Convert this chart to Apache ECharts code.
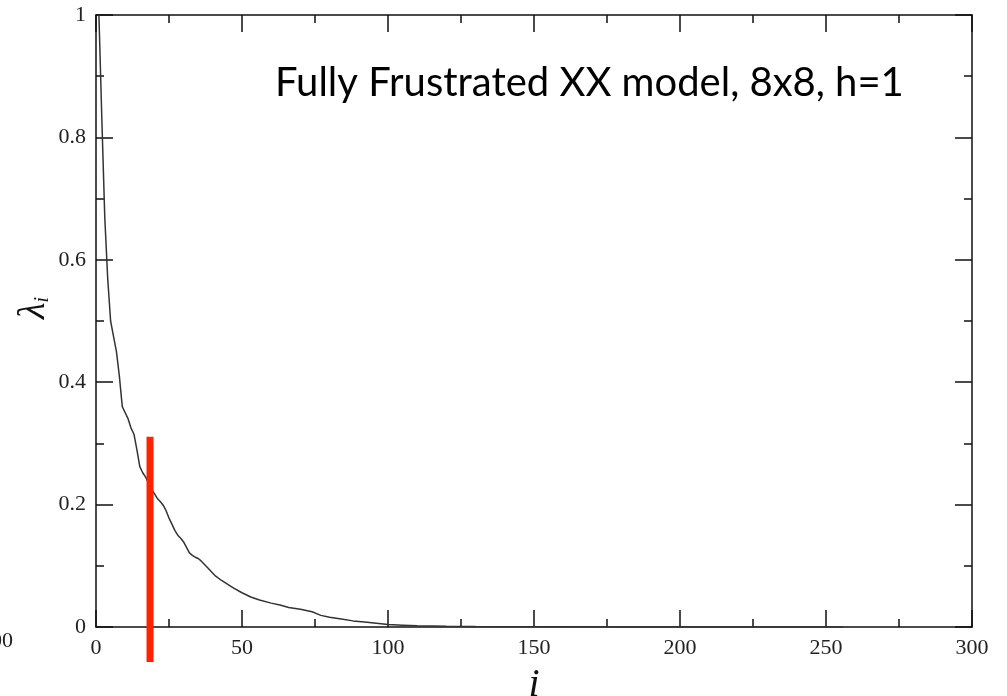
<!DOCTYPE html>
<html lang="en">
<head>
    <meta charset="UTF-8">
    <script src="https://cdn.jsdelivr.net/npm/echarts@6/dist/echarts.min.js"></script>
    <title>Eigenvalues</title>
    <style>
        html, body { margin: 0; height: 100%; background: #fff; }
        #container { width: 1007px; height: 696px; }
    </style>
</head>
<body>
<div id="container"></div>
<script type="application/javascript">
    // eigenvalue index i and value lambda_i
    const idx = [1, 2, 3, 4, 5, 6, 7, 8, 9, 10, 11, 12, 13, 14, 15, 16, 17, 18, 19, 20,
        21, 22, 23, 24, 25, 26, 27, 28, 29, 30, 31, 32, 33, 34, 35, 36, 38, 40, 41, 43,
        45, 47, 50, 53, 56, 60, 63, 66, 70, 74, 77, 80, 84, 88, 92, 96, 100, 105, 110, 120,
        130, 150, 180, 220, 256];
    const lambda = [1.0, 0.83, 0.67, 0.57, 0.50, 0.475, 0.45, 0.41, 0.36, 0.35, 0.34, 0.325, 0.315, 0.29, 0.262, 0.252, 0.245, 0.235, 0.225, 0.218,
        0.21, 0.205, 0.199, 0.19, 0.178, 0.168, 0.158, 0.15, 0.145, 0.139, 0.13, 0.121, 0.117, 0.114, 0.112, 0.108, 0.098, 0.088, 0.083, 0.076,
        0.07, 0.064, 0.056, 0.049, 0.044, 0.039, 0.036, 0.032, 0.029, 0.025, 0.019, 0.016, 0.013, 0.010, 0.008, 0.006, 0.004, 0.003, 0.002, 0.0012,
        0.0008, 0.0004, 0.0002, 0.0001, 0.00005];
    // red cut marker
    const cutIdx = 18.5;
    const cutRange = [0.311, -0.057];

    const titleText = 'Fully Frustrated XX model, 8x8, h=1';

    const dom = document.getElementById('container');
    const myChart = echarts.init(dom, null, {renderer: 'canvas'});

    let curve = [];
    for (let k = 0; k < idx.length; k++) {
        curve.push([idx[k], lambda[k]]);
    }
    const cut = cutRange.map(v => [cutIdx, v]);

    const axisLine = {show: true, onZero: false, lineStyle: {color: '#111', width: 1.5}};
    const majorTick = {show: true, inside: true, length: 17, lineStyle: {color: '#111', width: 1.5}};
    const minorTick = {show: true, splitNumber: 2, length: 8, lineStyle: {color: '#111', width: 1.5}};
    const tickFont = {fontFamily: 'Liberation Serif', fontSize: 22, color: '#222'};

    const option = {
        animation: false,
        grid: {left: 96, right: 35, top: 15, bottom: 69, containLabel: false, outerBoundsMode: 'none'},
        xAxis: [
            {
                type: 'value', min: 0, max: 300, interval: 50,
                axisLine: axisLine, axisTick: majorTick,
                minorTick: minorTick,
                splitLine: {show: false},
                axisLabel: Object.assign({margin: 10}, tickFont),
                name: 'i', nameLocation: 'middle', nameGap: 38,
                nameTextStyle: {fontFamily: 'Liberation Serif', fontStyle: 'italic', fontSize: 40, color: '#111'}
            },
            {
                type: 'value', position: 'top', min: 0, max: 300, interval: 50,
                axisLine: axisLine, axisTick: majorTick, minorTick: minorTick,
                splitLine: {show: false}, axisLabel: {show: false}
            }
        ],
        yAxis: [
            {
                type: 'value', min: 0, max: 1, interval: 0.2,
                axisLine: axisLine, axisTick: majorTick, minorTick: minorTick,
                splitLine: {show: false},
                axisLabel: Object.assign({margin: 10}, tickFont)
            },
            {
                type: 'value', position: 'right', min: 0, max: 1, interval: 0.2,
                axisLine: axisLine, axisTick: majorTick, minorTick: minorTick,
                splitLine: {show: false}, axisLabel: {show: false}
            }
        ],
        graphic: [
            {
                type: 'text', left: 275, top: 63,
                style: {text: titleText, fontFamily: 'Lato', fontSize: 40, fill: '#000'}
            },
            {
                type: 'text', x: 34, y: 308, rotation: Math.PI / 2,
                style: {
                    text: '{a|λ}{b|i}', align: 'center', verticalAlign: 'middle',
                    rich: {
                        a: {fontFamily: 'Liberation Serif', fontStyle: 'italic', fontSize: 38, fill: '#111'},
                        b: {fontFamily: 'Liberation Serif', fontStyle: 'italic', fontSize: 20, fill: '#111', verticalAlign: 'bottom'}
                    }
                }
            },
            {
                type: 'text', x: 13, y: 641,
                style: {text: '300', align: 'right', verticalAlign: 'middle',
                    fontFamily: 'Liberation Serif', fontSize: 22, fill: '#222'}
            }
        ],
        series: [
            {
                name: 'lambda', type: 'line', data: curve,
                symbol: 'none', smooth: false,
                lineStyle: {color: '#333', width: 1.5}
            },
            {
                name: 'cut', type: 'line', data: cut,
                symbol: 'none', clip: false,
                lineStyle: {color: '#ff2200', width: 7}
            }
        ]
    };
    myChart.setOption(option);
</script>
</body>
</html>
